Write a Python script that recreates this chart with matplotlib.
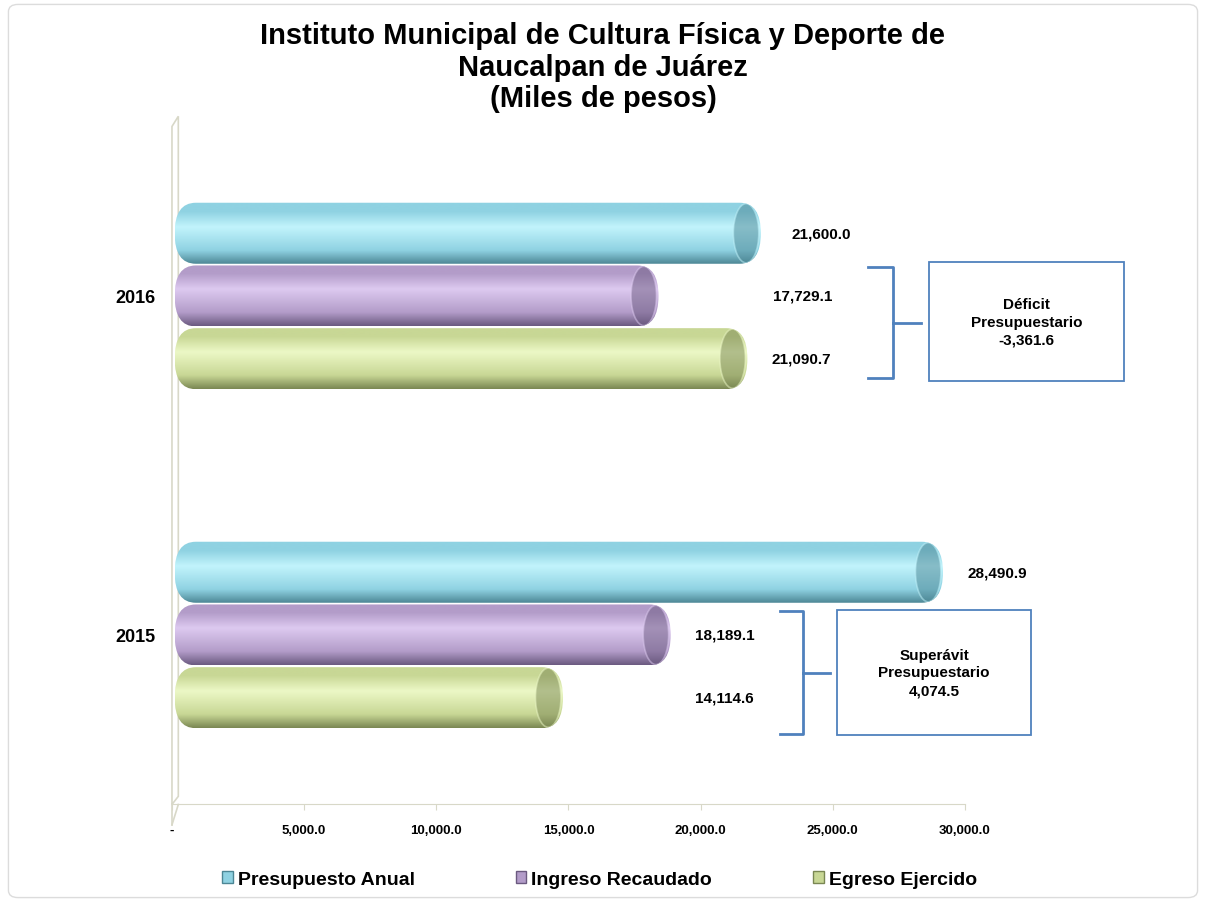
import numpy as np
import matplotlib
matplotlib.use("Agg")
import matplotlib.pyplot as plt
from matplotlib.colors import LinearSegmentedColormap
from matplotlib.patches import FancyBboxPatch, Ellipse, Patch, Rectangle, Polygon

# datos
anios = ["2015", "2016"]
series = ["Presupuesto Anual", "Ingreso Recaudado", "Egreso Ejercido"]
presupuesto = [28490.9, 21600.0]
ingreso = [18189.1, 17729.1]
egreso = [14114.6, 21090.7]
saldo_titulo = ["Superávit\nPresupuestario", "Déficit\nPresupuestario"]
saldo = ["4,074.5", "-3,361.6"]
ticks_x = [0, 5000, 10000, 15000, 20000, 25000, 30000]

# colores (oscuro, medio, claro)
colores = [("#4d8795", "#8fd2e2", "#c2f4fc"),
           ("#6b5a80", "#b39cc9", "#ddcaf0"),
           ("#7a8753", "#c8d795", "#ecf8c6")]

plt.rcParams["font.family"] = ["Liberation Sans", "DejaVu Sans"]
fig = plt.figure(figsize=(12.06, 9.04), dpi=100)
ax = fig.add_axes([0.1426, 0.109, 0.6575, 0.750])

# borde de la figura
fig.patches.append(FancyBboxPatch((0.007, 0.006), 0.986, 0.988,
                                  boxstyle="round,pad=0,rounding_size=0.008",
                                  transform=fig.transFigure, fill=False,
                                  edgecolor="#dcdcdc", linewidth=1.0))

y = np.arange(len(anios))
alto = 0.18
desp = 0.185
valores = [presupuesto, ingreso, egreso]
rx = 800          # radio horizontal del extremo redondeado
ry = alto / 2
saliente = 680    # el cilindro 3D sobresale del valor
inicio = 100

for k, vals in enumerate(valores):
    barras = ax.barh(y + desp * (1 - k), vals, height=alto, color="none")
    oscuro, medio, claro = colores[k]
    cmap = LinearSegmentedColormap.from_list(
        "c%d" % k, [(0, oscuro), (0.22, medio), (0.6, claro), (0.85, medio), (1, medio)])
    for b in barras:
        x0, y0, w, h = b.get_x() + inicio, b.get_y(), b.get_width() + saliente - inicio, b.get_height()
        forma = FancyBboxPatch((x0, y0), w, h,
                               boxstyle="round,pad=0,rounding_size=%f" % rx,
                               mutation_aspect=ry / rx, facecolor="none",
                               edgecolor="none", zorder=3)
        ax.add_patch(forma)
        grad = np.linspace(0, 1, 200).reshape(-1, 1)
        im = ax.imshow(grad, extent=[x0, x0 + w, y0, y0 + h], origin="lower",
                       cmap=cmap, aspect="auto", zorder=2, interpolation="bicubic")
        im.set_clip_path(forma)
        tapa = Ellipse((x0 + w - rx * 0.7, y0 + h / 2), rx * 1.2, h * 0.97,
                       facecolor=oscuro, edgecolor=claro, linewidth=1.2,
                       alpha=0.5, zorder=4)
        ax.add_patch(tapa)
        tapa.set_clip_path(forma)

# etiquetas de valor (posiciones de maquetacion)
pos_etiqueta = [[30080, 23450], [19790, 22740], [19790, 22700]]
for k, vals in enumerate(valores):
    for i, v in enumerate(vals):
        ax.text(pos_etiqueta[k][i], y[i] + desp * (1 - k), f"{v:,.1f}",
                ha="left", va="center", fontsize=11, fontweight="bold",
                clip_on=False)

ax.set_xlim(0, 30000)
ax.set_ylim(-0.5, 1.5)
ax.set_xticks(ticks_x)
ax.set_xticklabels(["-"] + [f"{t:,.1f}" for t in ticks_x[1:]],
                   fontsize=9.5, fontweight="bold")
ax.set_yticks(y)
ax.set_yticklabels(anios, fontsize=13, fontweight="bold")
ax.tick_params(axis="y", length=0, pad=12)
ax.tick_params(axis="x", length=4, color="#d8d8c8", pad=10)
for s in ["top", "right", "left"]:
    ax.spines[s].set_visible(False)
ax.spines["bottom"].set_color("#d8d8c8")

# pared 3D
pared = Polygon([(0, 0), (0, 1.0), (0.008, 1.015), (0.008, 0.012)],
                closed=True, fill=False, edgecolor="#d8d8c8", linewidth=1.2,
                transform=ax.transAxes, clip_on=False)
ax.add_patch(pared)
ax.plot([0, 0.008], [-0.03, 0.0], transform=ax.transAxes, color="#d8d8c8",
        linewidth=1.2, clip_on=False)
ax.plot([0, 0], [-0.03, 0.0], transform=ax.transAxes, color="#d8d8c8",
        linewidth=1.2, clip_on=False)

# llaves y cuadros (coordenadas de figura en pixeles)
W, H = 1206.0, 904.0
azul = "#4f81bd"
cajas = [dict(bx=780, tope=612, base=735, xv=803, xm=830, caja=(837, 611, 1031, 736)),
         dict(bx=868, tope=268, base=379, xv=893, xm=921, caja=(929, 263, 1124, 382))]
for i, c in enumerate(cajas):
    ym = (c["tope"] + c["base"]) / 2
    xs = [c["bx"], c["xv"], c["xv"], c["bx"]]
    ys = [c["tope"], c["tope"], c["base"], c["base"]]
    fig.lines.append(plt.Line2D([v / W for v in xs], [1 - v / H for v in ys],
                                transform=fig.transFigure, color=azul, linewidth=2))
    fig.lines.append(plt.Line2D([c["xv"] / W, c["xm"] / W], [1 - ym / H, 1 - ym / H],
                                transform=fig.transFigure, color=azul, linewidth=2))
    x1, y1, x2, y2 = c["caja"]
    fig.patches.append(Rectangle((x1 / W, 1 - y2 / H), (x2 - x1) / W, (y2 - y1) / H,
                                 transform=fig.transFigure, fill=False,
                                 edgecolor=azul, linewidth=1.3))
    fig.text((x1 + x2) / 2 / W, 1 - (y1 + y2) / 2 / H, saldo_titulo[i] + "\n" + saldo[i],
             ha="center", va="center", fontsize=11, fontweight="bold",
             linespacing=1.32)

fig.text(0.5, 1 - 22 / H,
         "Instituto Municipal de Cultura Física y Deporte de\nNaucalpan de Juárez\n(Miles de pesos)",
         ha="center", va="top", fontsize=21, fontweight="bold", linespacing=1.17)

manijas = [Patch(facecolor=colores[k][1], edgecolor=colores[k][0]) for k in range(3)]
fig.legend(manijas, series, loc="center", bbox_to_anchor=(0.497, 0.026), ncol=3,
           frameon=False, prop={"size": 14, "weight": "bold"},
           handlelength=0.55, handleheight=0.55, handletextpad=0.25,
           columnspacing=5.2)

fig.savefig("out.png", dpi=100, facecolor="white")
